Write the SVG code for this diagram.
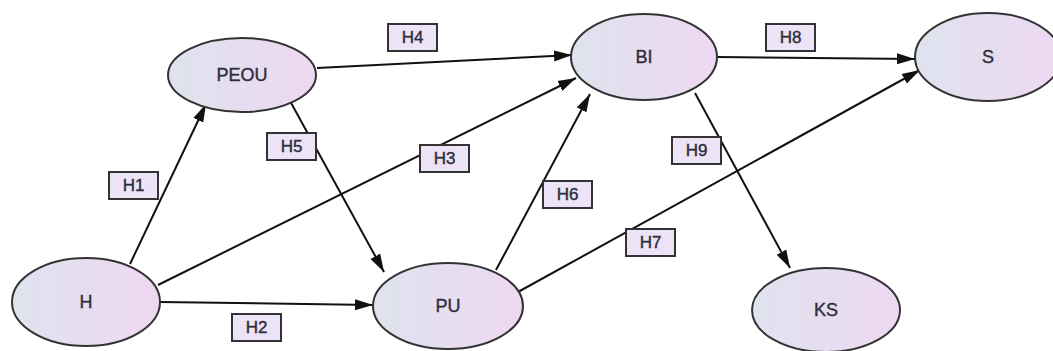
<svg xmlns="http://www.w3.org/2000/svg" width="1053" height="351" viewBox="0 0 1053 351">
<style>
.node ellipse{fill:url(#g);stroke:#333;stroke-width:2}
.node text{font-family:"Liberation Sans",Arial,sans-serif;font-size:18px;fill:#2e2e3c;text-anchor:middle;dominant-baseline:central;stroke:#2e2e3c;stroke-width:0.4}
.lab rect{fill:#ece4f6;stroke:#333;stroke-width:2}
.lab text{font-family:"Liberation Sans",Arial,sans-serif;font-size:17px;fill:#2e2e3c;text-anchor:middle;dominant-baseline:central;stroke:#2e2e3c;stroke-width:0.4}
.edge{stroke:#111;stroke-width:2;fill:none;marker-end:url(#arr)}
</style>
<defs>
<linearGradient id="g" x1="0" y1="0" x2="1" y2="0">
<stop offset="0" stop-color="#dfe3ee"/>
<stop offset="1" stop-color="#eed8f2"/>
</linearGradient>
<marker id="arr" markerUnits="userSpaceOnUse" markerWidth="19" markerHeight="12" refX="18" refY="6" orient="auto">
<path d="M0,0.5 L18,6 L0,11.5 Z" fill="#111"/>
</marker>
</defs>
<rect width="1053" height="351" fill="#fff"/>
<g id="connectors">
<line class="edge" x1="130" y1="264" x2="206" y2="104"/>
<line class="edge" x1="158" y1="285" x2="576" y2="78"/>
<line class="edge" x1="160" y1="302" x2="373" y2="305"/>
<line class="edge" x1="317" y1="68" x2="572" y2="55"/>
<line class="edge" x1="290" y1="101" x2="384" y2="272"/>
<line class="edge" x1="496" y1="270" x2="590" y2="94"/>
<line class="edge" x1="518" y1="292" x2="920" y2="70"/>
<line class="edge" x1="717" y1="57" x2="915" y2="59"/>
<line class="edge" x1="695" y1="93" x2="790" y2="268"/>
</g>
<g id="PEOU" class="node"><ellipse cx="242" cy="75" rx="74" ry="37"/><text x="242" y="75">PEOU</text></g>
<g id="H" class="node"><ellipse cx="86" cy="302" rx="74" ry="44"/><text x="86" y="302">H</text></g>
<g id="BI" class="node"><ellipse cx="644" cy="57" rx="73" ry="43"/><text x="644" y="57">BI</text></g>
<g id="S" class="node"><ellipse cx="988" cy="57" rx="73" ry="44"/><text x="988" y="57">S</text></g>
<g id="PU" class="node"><ellipse cx="448" cy="306" rx="75" ry="43"/><text x="448" y="306">PU</text></g>
<g id="KS" class="node"><ellipse cx="826" cy="310" rx="74" ry="42"/><text x="826" y="310">KS</text></g>
<g id="labels">
<g id="lH1" class="lab"><rect x="109" y="172" width="49" height="27"/><text x="133.5" y="185.5">H1</text></g>
<g id="lH2" class="lab"><rect x="232" y="314" width="49" height="27"/><text x="256.5" y="327.5">H2</text></g>
<g id="lH3" class="lab"><rect x="420" y="145" width="49" height="27"/><text x="444.5" y="158.5">H3</text></g>
<g id="lH4" class="lab"><rect x="388" y="24" width="49" height="27"/><text x="412.5" y="37.5">H4</text></g>
<g id="lH5" class="lab"><rect x="267" y="133" width="49" height="27"/><text x="291.5" y="146.5">H5</text></g>
<g id="lH6" class="lab"><rect x="543" y="181" width="49" height="27"/><text x="567.5" y="194.5">H6</text></g>
<g id="lH7" class="lab"><rect x="626" y="229" width="49" height="27"/><text x="650.5" y="242.5">H7</text></g>
<g id="lH8" class="lab"><rect x="766" y="24" width="49" height="27"/><text x="790.5" y="37.5">H8</text></g>
<g id="lH9" class="lab"><rect x="672" y="137" width="49" height="27"/><text x="696.5" y="150.5">H9</text></g>
</g>
</svg>
